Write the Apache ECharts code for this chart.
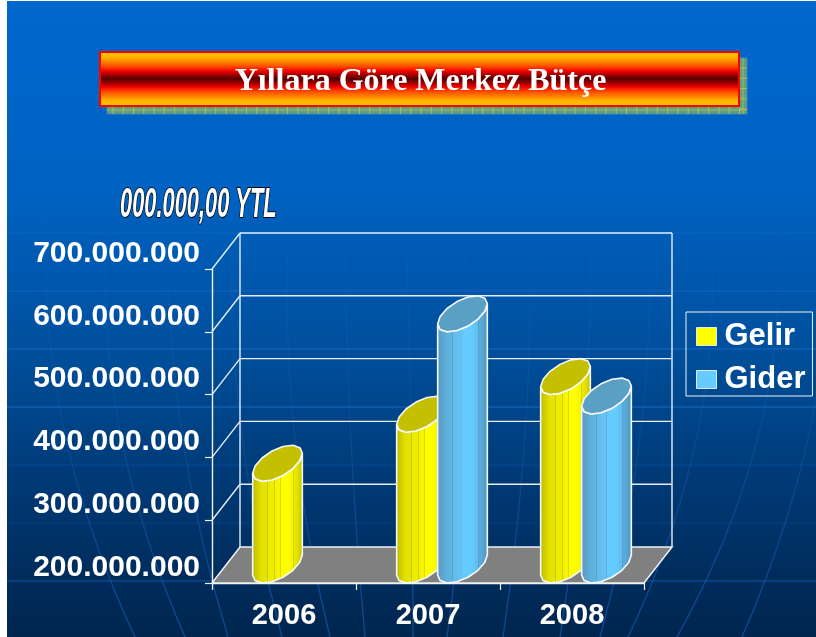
<!DOCTYPE html>
<html><head><meta charset="utf-8">
<style>html,body{margin:0;padding:0;background:#fff}#c{width:816px;height:637px}</style>
<script src="https://cdn.jsdelivr.net/npm/echarts@6/dist/echarts.min.js"></script>
</head><body><div id="c"></div>
<script>
const categories = ['2006', '2007', '2008'];
const gelir = [362000000, 440000000, 500000000];
const gider = [null, 600000000, 469000000];
const yTicks = [200000000, 300000000, 400000000, 500000000, 600000000, 700000000];

const DX = 28, DY = -36, BAR = 41, SEG = 14;
const fmt = v => String(v).replace(/\B(?=(\d{3})+$)/g, '.');
const grad = s => ({type:'linear',x:0,y:0,x2:1,y2:0,colorStops:s.map(a=>({offset:a[0],color:a[1]}))});
const yellowBody = grad([[0,'#b3b100'],[.05,'#c6c400'],[.18,'#e2e000'],[.3,'#e6e400'],[.3,'#c8c608'],[.32,'#c8c608'],[.32,'#ecea00'],[.44,'#f0ee00'],[.44,'#d2d008'],[.455,'#d2d008'],[.455,'#f4f200'],[.55,'#f8f600'],[.55,'#dcda08'],[.565,'#dcda08'],[.565,'#ffff00'],[.68,'#ffff00'],[.68,'#e6e408'],[.695,'#e6e408'],[.695,'#ffff00'],[.8,'#f6f400'],[.8,'#d8d608'],[.815,'#d8d608'],[.815,'#eeec00'],[.9,'#e0de00'],[1,'#bdbb00']]);
const blueBody = grad([[0,'#4f94bd'],[.06,'#5a9fc8'],[.2,'#5fb0dc'],[.3,'#62b6e2'],[.3,'#54a4ce'],[.32,'#54a4ce'],[.32,'#64bcea'],[.5,'#66c4f4'],[.5,'#5aaeda'],[.515,'#5aaeda'],[.515,'#66ccff'],[.66,'#66ccff'],[.66,'#5ab4e2'],[.675,'#5ab4e2'],[.675,'#66ccff'],[.8,'#60bcec'],[.8,'#54a4ce'],[.815,'#54a4ce'],[.815,'#5caedc'],[.92,'#54a2ce'],[1,'#4a90b8']]);

function cylinder(dir, body, cap) {
  return function (params, api) {
    const v = api.value(1);
    if (v == null || isNaN(v)) return;
    const top = api.coord([api.value(0), v]);
    const base = api.coord([api.value(0), yTicks[0]]);
    const cx = top[0] + dir * BAR / 2 + DX / 2;
    const a = BAR / 2, d = DX / 2, e = -DY / 2;
    const t0 = Math.atan2(d, a);
    const pt = (t, y) => [cx + a * Math.cos(t) + d * Math.sin(t), y + DY / 2 - e * Math.sin(t)];
    const bodyPts = [];
    for (let i = 0; i <= SEG / 2; i++) bodyPts.push(pt(t0 + Math.PI + i * 2 * Math.PI / SEG, base[1]));
    for (let i = SEG / 2; i >= 0; i--) bodyPts.push(pt(t0 + Math.PI + i * 2 * Math.PI / SEG, top[1]));
    const capPts = [];
    for (let i = 0; i < SEG; i++) capPts.push(pt(t0 + i * 2 * Math.PI / SEG, top[1]));
    const line = {stroke:'#f6f9fb', lineWidth:1.6, lineJoin:'round'};
    return {type:'group', children:[
      {type:'polygon', shape:{points:bodyPts}, style:Object.assign({fill:body}, line)},
      {type:'polygon', shape:{points:capPts}, style:Object.assign({fill:cap}, line)}
    ]};
  };
}

function frame(params, api) {
  const v = api.value(1);
  const p = api.coord([0, v]);
  const cs = params.coordSys;
  const x0 = cs.x, x1 = cs.x + cs.width, y = p[1];
  const children = [];
  const ln = {stroke:'#e8eef4', lineWidth:1.4};
  if (v === yTicks[0]) {
    children.push({type:'polygon', shape:{points:[[x0,y],[x0+DX,y+DY],[x1+DX,y+DY],[x1,y]]}, style:{fill:'#808080', stroke:'#eef2f6', lineWidth:1.5}});
    children.push({type:'line', shape:{x1:x0+DX,y1:y+DY,x2:x0+DX,y2:cs.y+DY}, style:ln});
    children.push({type:'line', shape:{x1:x1+DX,y1:y+DY,x2:x1+DX,y2:cs.y+DY}, style:ln});
  } else {
    children.push({type:'line', shape:{x1:x0,y1:y,x2:x0+DX,y2:y+DY}, style:ln});
    children.push({type:'line', shape:{x1:x0+DX,y1:y+DY,x2:x1+DX,y2:y+DY}, style:ln});
  }
  return {type:'group', children};
}

// decorative backdrop: faint globe lines and title banner
const deco = [];
deco.push({type:'rect', shape:{x:0,y:0,width:7,height:637}, style:{fill:'#fff'}});
deco.push({type:'rect', shape:{x:0,y:0,width:816,height:1}, style:{fill:'#fff'}});
[233,291,349,407,465,523,581].forEach((y,i)=>{
  deco.push({type:'line', shape:{x1:7,y1:y,x2:816,y2:y}, style:{stroke:'#1a6fd0', opacity:[.35,.6,.8,.9,.25,.25,.6][i], lineWidth:1.2}});
});
[[48,62,135],[108,118,185],[168,180,228],[232,240,282],[290,293,330],[345,350,365],[405,411,413],[462,466,447],[530,526,503],[590,585,560],[648,642,600],[708,700,628],[775,762,677],[830,812,742]].forEach(m=>{
  const y0=205,y1=420,y2=637;
  const cx=2*m[1]-(m[0]+m[2])/2, cy=2*y1-(y0+y2)/2;
  deco.push({type:'bezierCurve', shape:{x1:m[0],y1:y0,x2:m[2],y2:y2,cpx1:cx,cpy1:cy},
    style:{fill:'none',lineWidth:1.3,stroke:{type:'linear',x:0,y:0,x2:0,y2:1,colorStops:[{offset:0,color:'rgba(30,110,210,0.05)'},{offset:.5,color:'rgba(20,90,180,0.35)'},{offset:1,color:'rgba(20,90,180,0.7)'}]}}});
});
deco.push({type:'rect', shape:{x:107,y:58,width:640,height:56}, style:{fill:'#5f9f80', stroke:'#3f86b8', lineWidth:1}});
for (let x=113;x<747;x+=10.27) deco.push({type:'line', shape:{x1:x,y1:106,x2:x,y2:114}, style:{stroke:'#b4c84c',lineWidth:1,opacity:.8}});
for (let y=68;y<112;y+=10.27) deco.push({type:'line', shape:{x1:740,y1:y,x2:747,y2:y}, style:{stroke:'#b4c84c',lineWidth:1,opacity:.8}});
deco.push({type:'line', shape:{x1:107,y1:110,x2:747,y2:110}, style:{stroke:'#b4c84c',lineWidth:1,opacity:.7}});
deco.push({type:'line', shape:{x1:743,y1:58,x2:743,y2:114}, style:{stroke:'#b4c84c',lineWidth:1,opacity:.7}});
deco.push({type:'rect', shape:{x:100,y:52,width:639,height:54},
  style:{stroke:'#ff0000',lineWidth:2,fill:{type:'linear',x:0,y:0,x2:0,y2:1,colorStops:[
    {offset:0,color:'#ffd000'},{offset:.12,color:'#ffb000'},{offset:.27,color:'#ff5000'},{offset:.36,color:'#ee0000'},{offset:.44,color:'#900000'},{offset:.5,color:'#550000'},{offset:.56,color:'#900000'},{offset:.64,color:'#ee0000'},{offset:.73,color:'#ff5000'},{offset:.88,color:'#ffb000'},{offset:1,color:'#ffd000'}]}}});
deco.push({type:'text', x:420.5, y:82, style:{text:'Yıllara Göre Merkez Bütçe', font:'bold 32px "Liberation Serif"', fill:'#fff', textAlign:'center', textVerticalAlign:'middle'}});
deco.push({type:'text', x:120, y:205, scaleX:.52, style:{text:'000.000,00 YTL', font:'italic bold 42px "Liberation Sans"', fill:'#fff', stroke:'#0a0a0a', lineWidth:2.2, textAlign:'left', textVerticalAlign:'middle'}});

const chart = echarts.init(document.getElementById('c'), null, {renderer:'canvas'});
chart.setOption({
  animation:false,
  backgroundColor:{type:'linear',x:0,y:0,x2:0,y2:1,colorStops:[{offset:0,color:'#0067ce'},{offset:.3,color:'#0062c2'},{offset:.55,color:'#004f9c'},{offset:.75,color:'#003a76'},{offset:.93,color:'#002a58'},{offset:1,color:'#00264e'}]},
  graphic:{elements:deco.map(d=>Object.assign({silent:true,z:0},d))},
  grid:{left:212,top:269,width:432,height:314,containLabel:false},
  xAxis:{type:'category',data:categories,boundaryGap:true,
    axisLine:{lineStyle:{color:'#eef2f6',width:1.4}},
    axisTick:{show:true,length:7,alignWithLabel:false,lineStyle:{color:'#eef2f6',width:1.2}},
    axisLabel:{color:'#fff',fontFamily:'Liberation Sans',fontWeight:'bold',fontSize:29,margin:18}},
  yAxis:{type:'value',min:yTicks[0],max:yTicks[yTicks.length-1],interval:yTicks[1]-yTicks[0],
    axisLine:{show:true,lineStyle:{color:'#eef2f6',width:1.4}},
    axisTick:{show:true,length:7,lineStyle:{color:'#eef2f6',width:1.2}},
    splitLine:{show:false},
    axisLabel:{color:'#fff',fontFamily:'Liberation Sans',fontWeight:'bold',fontSize:30,margin:12,verticalAlign:'bottom',lineHeight:31,formatter:fmt}},
  legend:{data:['Gelir','Gider'],orient:'vertical',left:686,top:312,padding:[9,7,1,10],itemGap:12,itemWidth:20,itemHeight:18,icon:'rect',
    borderColor:'#eef2f6',borderWidth:1,borderRadius:0,
    itemStyle:{borderColor:'#dcecf6',borderWidth:1},
    textStyle:{color:'#fff',fontFamily:'Liberation Sans',fontWeight:'bold',fontSize:31,padding:[4,0,0,3]}},
  series:[
    {type:'custom',name:'frame',z:1,silent:true,renderItem:frame,data:yTicks.map(v=>[0,v]),encode:{x:0,y:1}},
    {type:'custom',name:'Gelir',z:3,renderItem:cylinder(-1,yellowBody,'#c4c000'),itemStyle:{color:'#ffff00'},data:gelir.map((v,i)=>[i,v]),encode:{x:0,y:1}},
    {type:'custom',name:'Gider',z:4,renderItem:cylinder(1,blueBody,'#5a9fc4'),itemStyle:{color:'#66ccff'},data:gider.map((v,i)=>[i,v]),encode:{x:0,y:1}}
  ]
});
</script></body></html>
